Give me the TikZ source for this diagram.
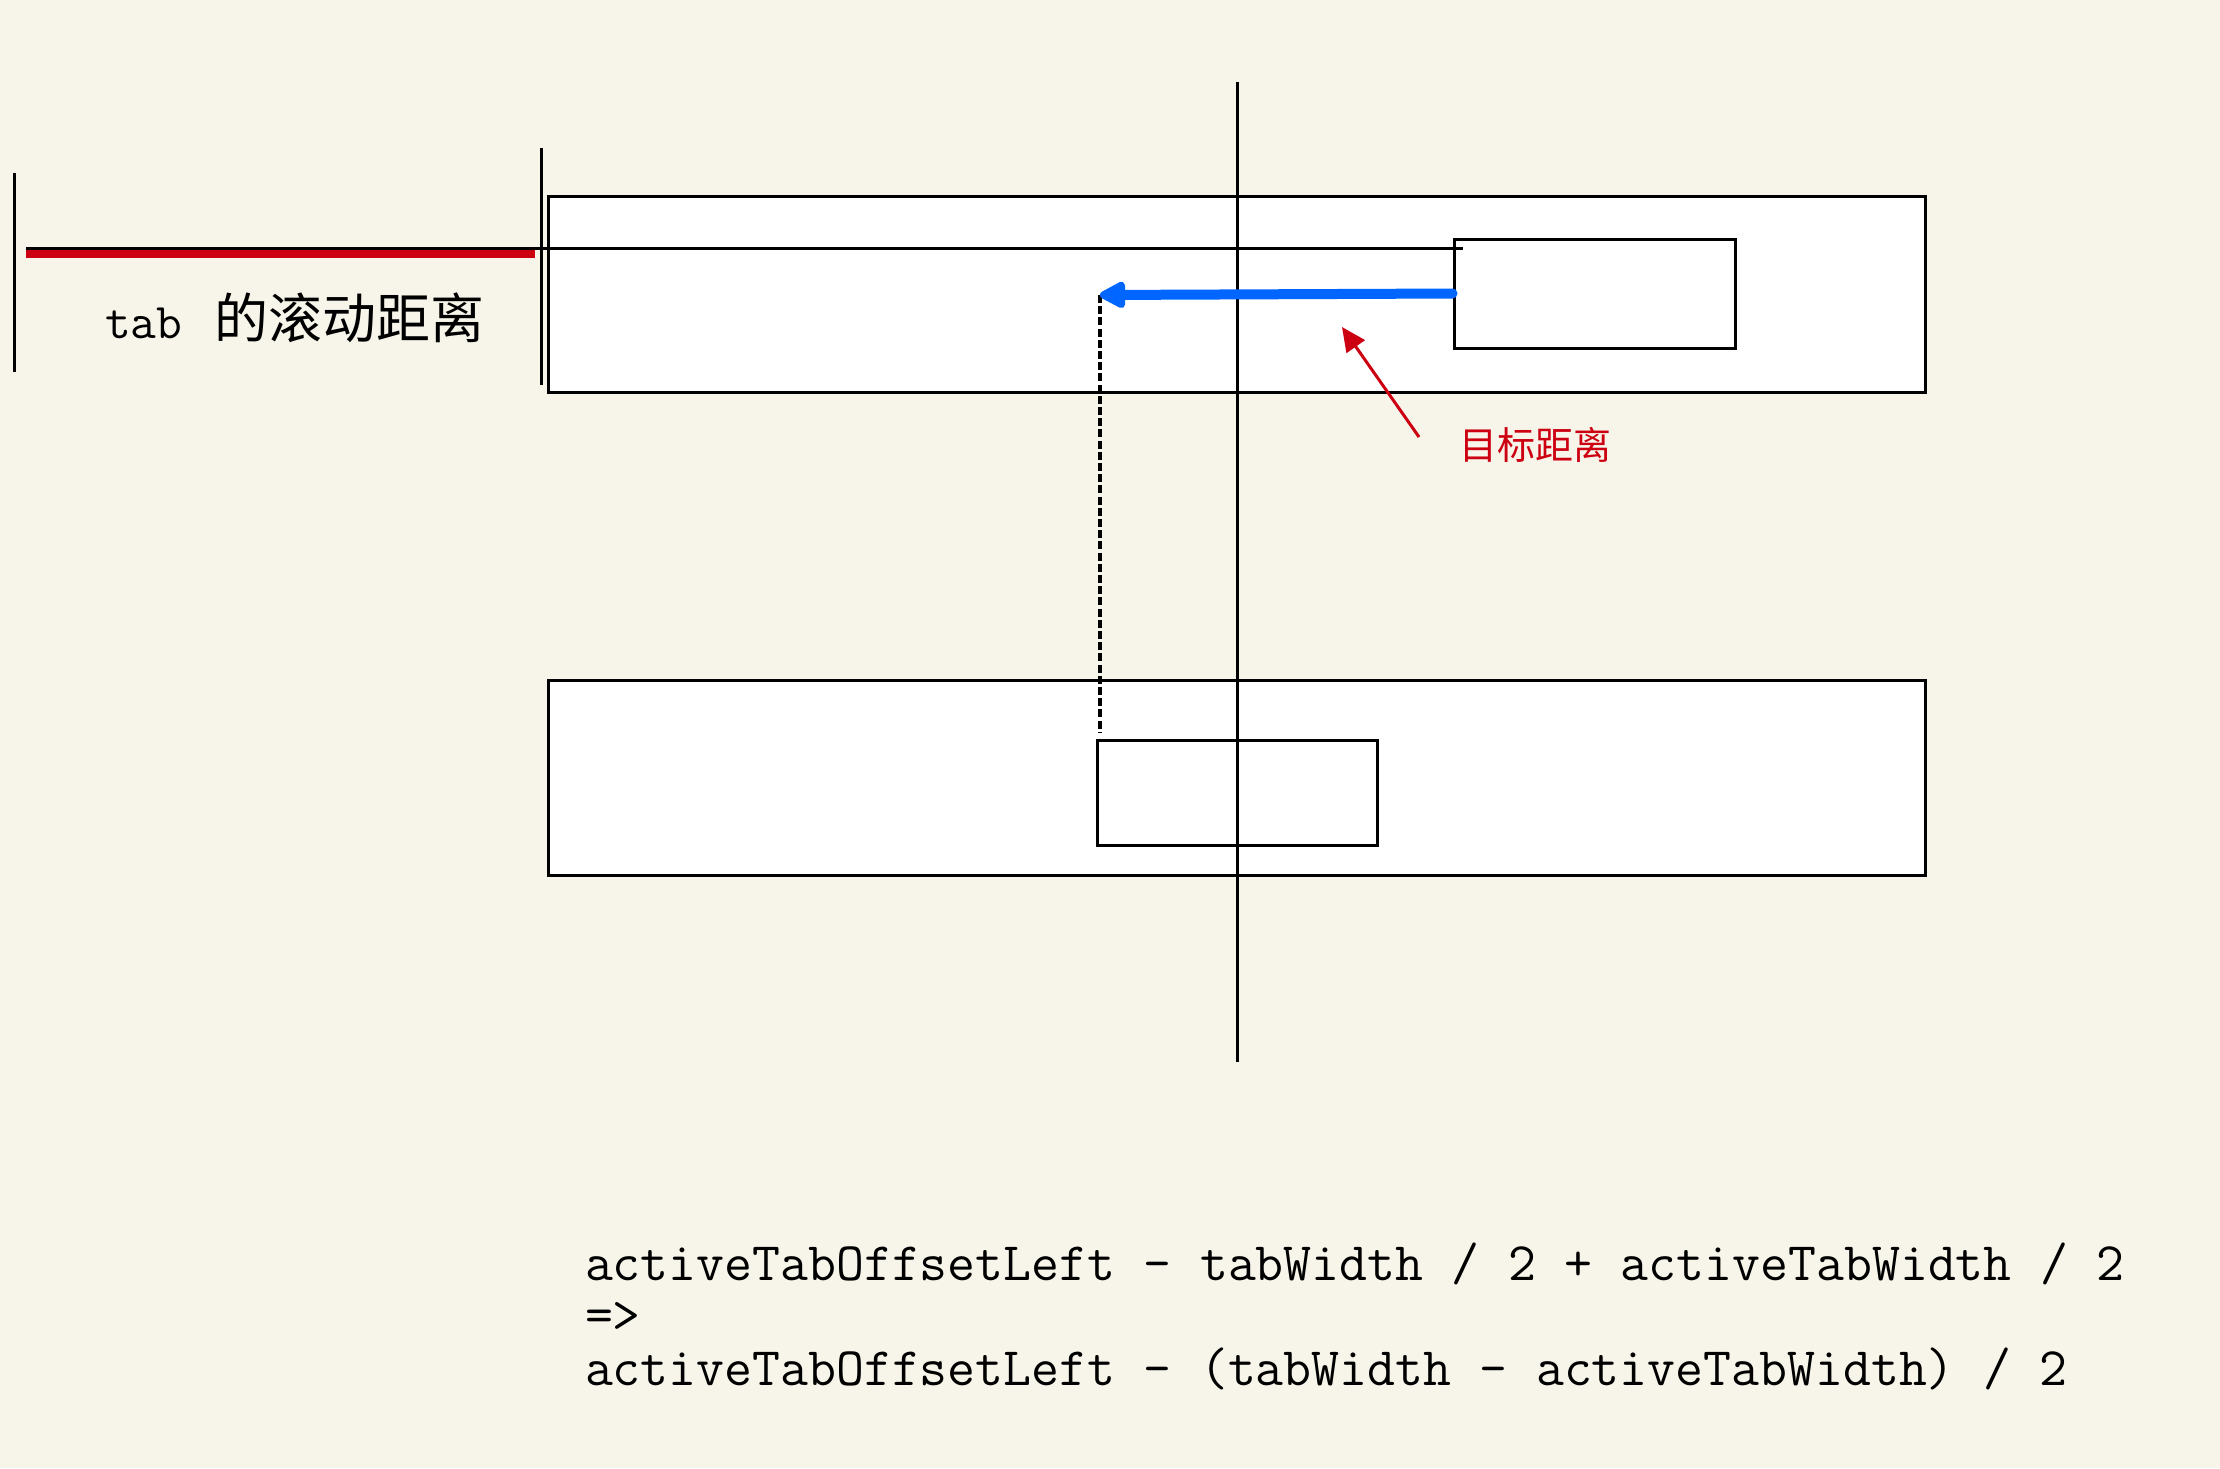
\documentclass[tikz,border=0pt]{standalone}
\usepackage{fontspec}
\newfontfamily\cjk{Noto Sans CJK SC}
\usetikzlibrary{arrows.meta}
\definecolor{bgc}{HTML}{F7F5EA}
\definecolor{tblue}{HTML}{0066FF}
\definecolor{tred}{HTML}{CC0011}
\newcommand\monowide{\spaceskip=0.525em\relax}
\tikzset{
  box/.style={draw=black, fill=white, line width=1.5pt, inner sep=0pt, rectangle},
  rule/.style={draw=black, line width=1.5pt},
  lbl/.style={inner sep=0pt, outer sep=0pt},
}
\begin{document}
\begin{tikzpicture}[x=0.5pt,y=-0.5pt]
\fill[bgc] (0,0) rectangle (2220,1468);
\useasboundingbox (0,0) rectangle (2220,1468);

% big boxes
\node[box, minimum width=688.5pt, minimum height=98pt] (topbox) at (1236.5,294) {};
\node[box, minimum width=688.5pt, minimum height=97.5pt] (botbox) at (1236.5,777.5) {};
% small boxes
\node[box, fill=none, minimum width=140.5pt, minimum height=54.5pt] (topsmall) at (1594.5,293.5) {};
\node[box, fill=none, minimum width=140pt, minimum height=52.5pt] (botsmall) at (1237,792.5) {};

% coordinates
\coordinate (ctop) at (1237,82);
\coordinate (cbot) at (1237,1062);
\coordinate (lltop) at (14.5,173);
\coordinate (llbot) at (14.5,372);
\coordinate (rltop) at (541,148);
\coordinate (rlbot) at (541,385);
\coordinate (hstart) at (26,248);
\coordinate (hend) at (1463,248);
\coordinate (redstart) at (26,254);
\coordinate (redend) at (535,254);
\coordinate (tip) at (1100,295);
\coordinate (dashend) at (1100,732);
\coordinate (rtail) at (1419,437);
\coordinate (rtip) at (1342,327);

% lines
\draw[rule] (ctop) -- (cbot);
\draw[rule] (lltop) -- (llbot);
\draw[rule] (rltop) -- (rlbot);
\draw[rule] (hstart) -- (hend);
\draw[tred, line width=4pt] (redstart) -- (redend);

% dashed guide
\draw[black, line width=1.7pt, dash pattern=on 4pt off 1.6pt] (tip) -- (dashend);

% blue arrow
\draw[tblue, line width=5pt, line cap=round,
  -{Triangle[length=15pt,width=14.5pt,round]}] (topsmall.west) -- (tip);

% red arrow
\draw[tred, line width=1.5pt, -{Triangle[length=12pt,width=11pt]}] (rtail) -- (rtip);

% texts
\node[lbl, anchor=base west] (scroll) at (105,338)
  {\ttfamily\fontsize{25}{25}\selectfont tab\hspace{16pt}\cjk\fontsize{27}{27}\selectfont 的滚动距离};
\node[lbl, anchor=west, text=tred] (target) at (1459,445)
  {\cjk\fontsize{19}{19}\selectfont 目标距离};
\node[lbl, anchor=base west, align=left,
      font=\ttfamily\fontsize{27.1}{26.25}\selectfont] (formula) at (585,1385)
  {\monowide activeTabOffsetLeft - tabWidth / 2 + activeTabWidth / 2\\
   \monowide =>\\
   \monowide activeTabOffsetLeft - (tabWidth - activeTabWidth) / 2};
\end{tikzpicture}
\end{document}
